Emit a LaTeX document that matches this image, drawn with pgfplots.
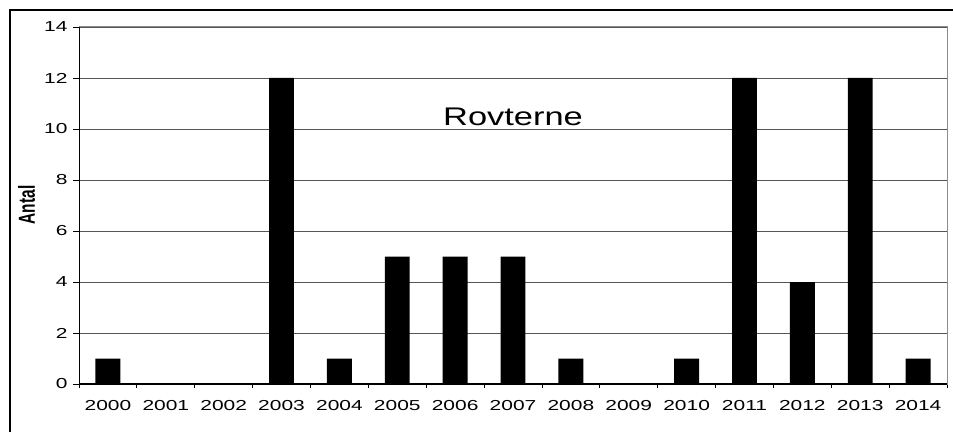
\documentclass[border=0pt]{standalone}
\usepackage{fontspec}
\setmainfont{Liberation Sans}
\newfontfamily\tickfont{Liberation Sans}[FakeStretch=1.45]
\newfontfamily\titlefont{Liberation Sans}[FakeStretch=1.35]
\usepackage{pgfplots}
\pgfplotsset{compat=1.18}
\definecolor{gridgray}{HTML}{555555}
\definecolor{bordergray}{HTML}{8C8C8C}

\begin{document}
\begin{tikzpicture}[x=1bp,y=1bp]
\useasboundingbox (0,0) rectangle (953,432);
\draw[line width=1.4bp] (10,0) -- (10,422) -- (953,422);
\begin{axis}[at={(79bp,48bp)}, anchor=south west,
  scale only axis, width=868bp, height=357bp,
  xmin=-0.5, xmax=14.5, ymin=0, ymax=14,
  ytick={0,2,...,14},
  xtick={0,...,14},
  xticklabels={2000,2001,2002,2003,2004,2005,2006,2007,2008,2009,2010,2011,2012,2013,2014},
  minor xtick={-0.5,0.5,...,14.5},
  major x tick style={draw=none},
  xtick pos=bottom, ytick pos=left,
  tick align=outside,
  major tick length=6bp, minor tick length=4bp,
  tick style={black, line width=0.8bp},
  ymajorgrids, grid style={gridgray, line width=0.9bp},
  axis line style={bordergray, line width=1bp},
  /pgf/number format/assume math mode=true,
  tick label style={font=\tickfont\fontsize{14.5}{16}\selectfont},
  yticklabel style={xshift=-2bp},
  xticklabel style={yshift=-7bp},
]
\addplot[ybar, bar width=0.43, fill=black, draw=none] coordinates {
  (0,1) (1,0) (2,0) (3,12) (4,1) (5,5) (6,5) (7,5)
  (8,1) (9,0) (10,1) (11,12) (12,4) (13,12) (14,1)};
\draw[black, line width=1.2bp] (rel axis cs:0,1) -- (rel axis cs:0,0) -- (rel axis cs:1,0);
\node[font=\titlefont\fontsize{25.6}{30}\selectfont, anchor=base] at (axis cs:7,10.15) {Rovterne};
\end{axis}
\node[rotate=90, font=\bfseries\fontsize{15.5}{17}\selectfont] at (26.5,227) {\scalebox{1}[1.5]{Antal}};
\end{tikzpicture}
\end{document}
